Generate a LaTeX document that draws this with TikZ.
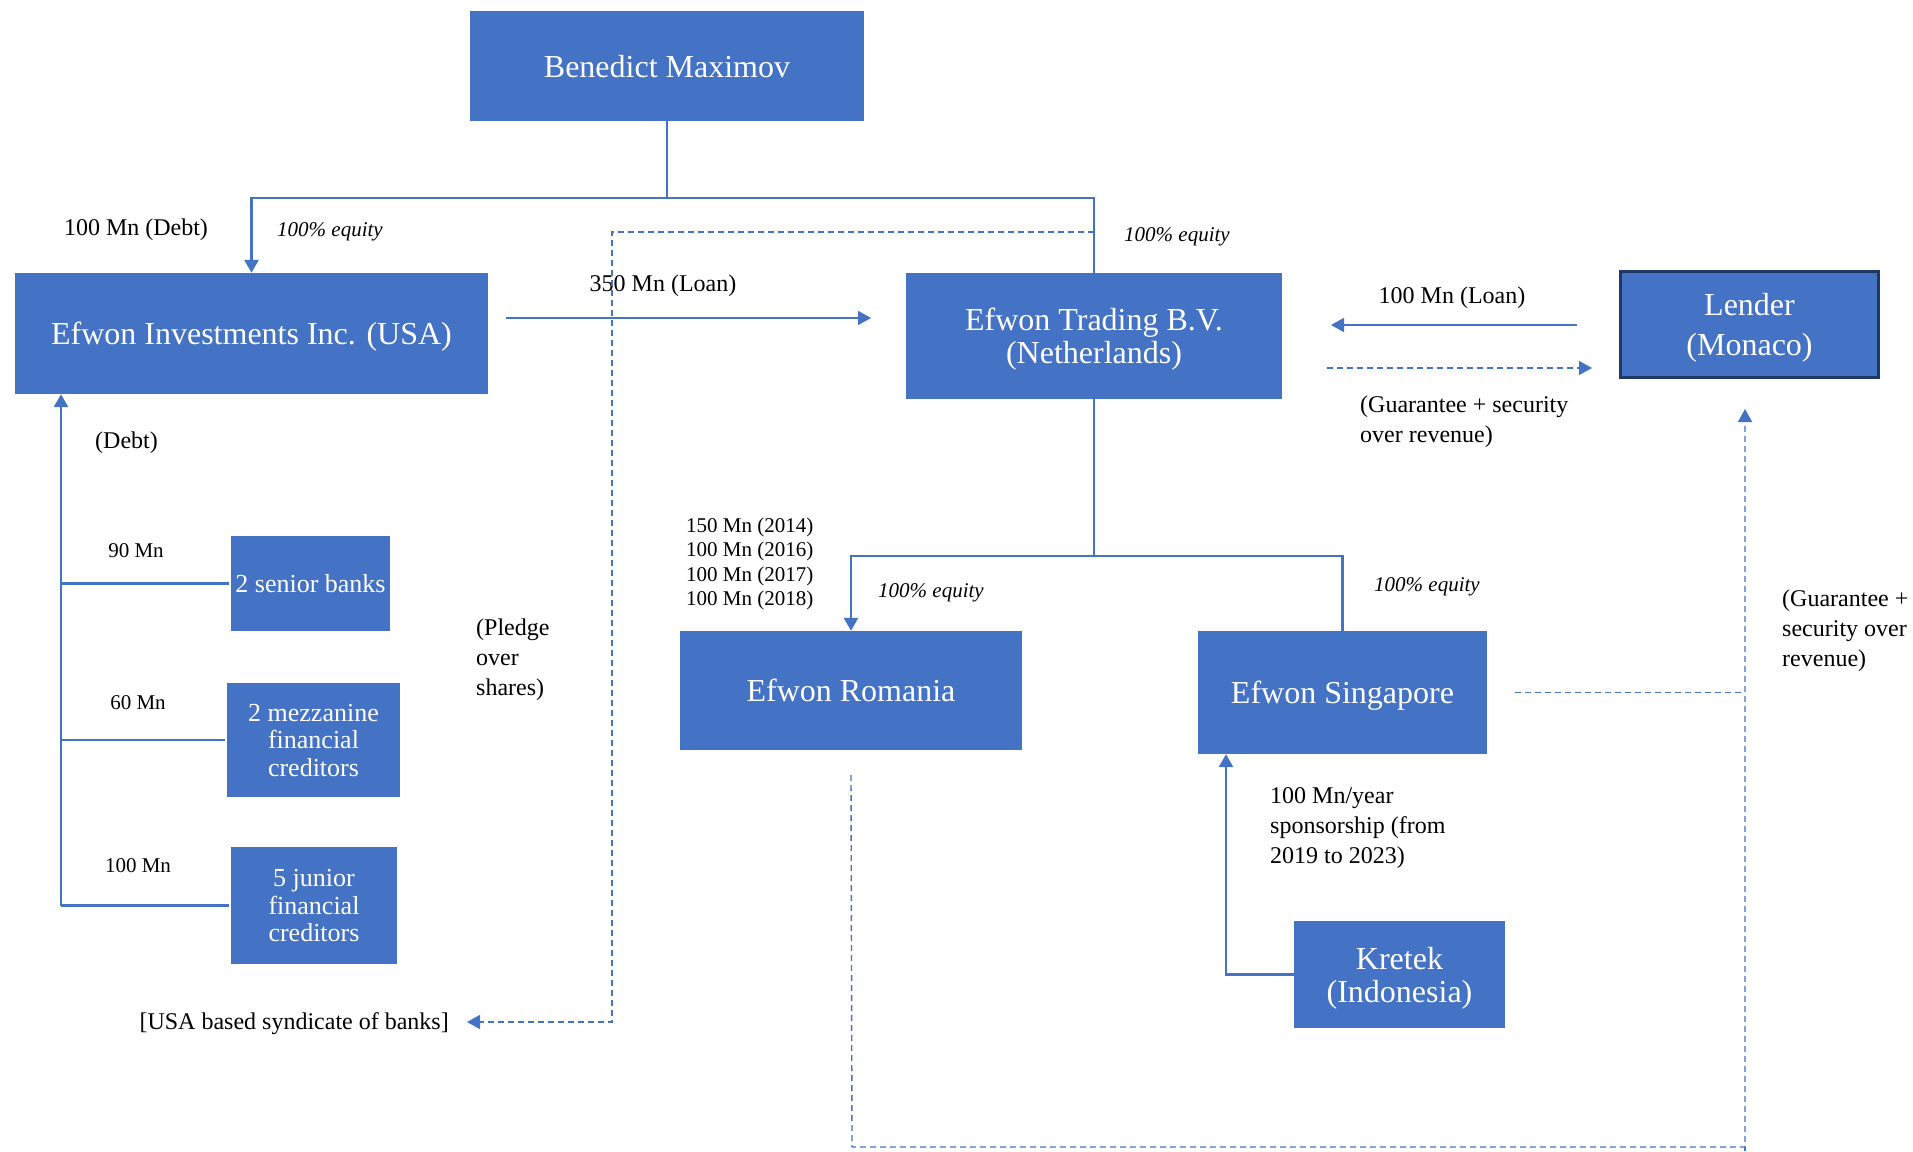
\documentclass[tikz,border=0pt]{standalone}
\usepackage{fontspec}
\setmainfont{Liberation Serif}
\usetikzlibrary{arrows.meta}
\definecolor{boxblue}{HTML}{4472C4}
\definecolor{navy}{HTML}{1F3864}
\newcommand\szA{\fontsize{32}{33}\selectfont}
\newcommand\szL{\fontsize{32}{40}\selectfont}
\newcommand\szB{\fontsize{26}{27.5}\selectfont}
\newcommand\szC{\fontsize{24}{30}\selectfont}
\newcommand\szD{\fontsize{21}{24.4}\selectfont}
\begin{document}
\begin{tikzpicture}[x=1pt,y=-1pt,
  bx/.style 2 args={fill=boxblue, text=white, inner sep=2pt, align=center,
    text depth=0pt, minimum width=#1pt, minimum height=#2pt},
  ln/.style={draw=boxblue, line width=2.6pt},
  arr/.style={ln, -{Triangle[width=14pt,length=13pt]}},
  thin/.style={draw=boxblue, line width=1.8pt, -{Triangle[width=14pt,length=13pt]}},
  dsh/.style={draw=boxblue, line width=1.4pt, dash pattern=on 6pt off 4pt},
  dsharr/.style={dsh, -{Triangle[width=14pt,length=13pt]}},
  lbl/.style={inner sep=0pt, font=\szC, align=left},
  eq/.style={inner sep=0pt, font=\szD\itshape, anchor=west},
  amt/.style={inner sep=0pt, font=\szD, align=left}]
\useasboundingbox (0,0) rectangle (1913,1151);

% boxes
\node[bx={394}{110}, font=\szA] (bm) at (667,66) {Benedict Maximov};
\node[bx={473}{121}, font=\szA] (inv) at (251.5,333.5) {Efwon Investments Inc. (USA)};
\node[bx={376}{126}, font=\szA] (trd) at (1094,336) {Efwon Trading B.V.\\(Netherlands)};
\node[bx={258}{106}, font=\szL, draw=navy, line width=3pt] (lnd) at (1749.5,324.5) {Lender\\(Monaco)};
\node[bx={342}{119}, font=\szA] (rom) at (851,690.5) {Efwon Romania};
\node[bx={289}{123}, font=\szA] (sng) at (1342.5,692.5) {Efwon Singapore};
\node[bx={211}{107}, font=\szA] (krt) at (1399.5,974.5) {Kretek\\(Indonesia)};
\node[bx={159}{95}, font=\szB] (snr) at (310.5,583.5) {2 senior banks};
\node[bx={173}{114}, font=\szB] (mez) at (313.5,740) {2 mezzanine\\financial\\creditors};
\node[bx={166}{117}, font=\szB] (jun) at (314,905.5) {5 junior\\financial\\creditors};
\node[lbl, anchor=east] (syn) at (449,1024) {[USA based syndicate of banks]};

% labels
\node[lbl] (l1) at (136,230) {100 Mn (Debt)};
\node[eq] (e1) at (277,232) {100\% equity};
\node[eq] (e2) at (1124,237) {100\% equity};
\node[lbl] (l2) at (663,286) {350 Mn (Loan)};
\node[lbl] (l3) at (1452,298) {100 Mn (Loan)};
\node[lbl, anchor=west] (l4) at (1360,422) {(Guarantee + security\\over revenue)};
\node[lbl, anchor=west] (l5) at (95,443) {(Debt)};
\node[amt] (a1) at (136,551) {90 Mn};
\node[amt] (a2) at (138,703) {60 Mn};
\node[amt] (a3) at (138,866) {100 Mn};
\node[lbl, anchor=west] (l6) at (476,660) {(Pledge\\over\\shares)};
\node[amt, anchor=west] (a4) at (686,564) {150 Mn (2014)\\100 Mn (2016)\\100 Mn (2017)\\100 Mn (2018)};
\node[eq] (e3) at (878,593) {100\% equity};
\node[eq] (e4) at (1374,587) {100\% equity};
\node[lbl, anchor=west] (l7) at (1782,631) {(Guarantee +\\security over\\revenue)};
\node[lbl, anchor=west] (l8) at (1270,828) {100 Mn/year\\sponsorship (from\\2019 to 2023)};

% equity tree from Benedict
\coordinate (j1) at (667,198);
\draw[ln] (bm.south) -- (j1);
\draw[arr] (j1) -| (inv.north);
\draw[ln] (j1) -| (trd.north);

% loan 350
\coordinate (p1) at (506,318);
\coordinate (p2) at (871,318);
\draw[thin] (p1) -- (p2);

% pledge over shares
\coordinate (q1) at (612,232);
\coordinate (q2) at (612,1022);
\draw[dsharr] (trd.north |- q1) -- (q1) -- (q2) -- ([xshift=18pt]syn.east |- q2);

% lender loan and guarantee
\coordinate (r1) at (1577,325);
\coordinate (r2) at (1331,325);
\draw[thin] (r1) -- (r2);
\coordinate (s1) at (1327,368);
\coordinate (s2) at (1592,368);
\draw[dsharr] (s1) -- (s2);

% Trading subsidiaries
\coordinate (j2) at (1094,556);
\draw[ln] (trd.south) -- (j2);
\draw[arr] (j2) -| (rom.north);
\draw[ln] (j2) -| (sng.north);

% guarantees to lender
\coordinate (g1) at (1745,692.5);
\coordinate (g2) at (852,1147);
\coordinate (g3) at (1745,1147);
\coordinate (g4) at (1745,409);
\draw[dsh] ([xshift=28pt]sng.east) -- (g1);
\draw[dsharr] ([yshift=-25pt]rom.south) -- (g2) -- (g3) -- (g4);
\draw[dsh] (g3) -- (1745,1151);

% Kretek sponsorship
\draw[arr] (krt.west) -| ([xshift=-116.5pt]sng.south);

% debt tree
\coordinate (d0) at (61,905.5);
\draw[arr] (d0) -- (d0 |- inv.south);
\draw[ln] (d0 |- snr.west) -- ([xshift=-2pt]snr.west);
\draw[ln] (d0 |- mez.west) -- ([xshift=-2pt]mez.west);
\draw[ln] (d0) -- ([xshift=-2pt]jun.west);
\end{tikzpicture}
\end{document}
